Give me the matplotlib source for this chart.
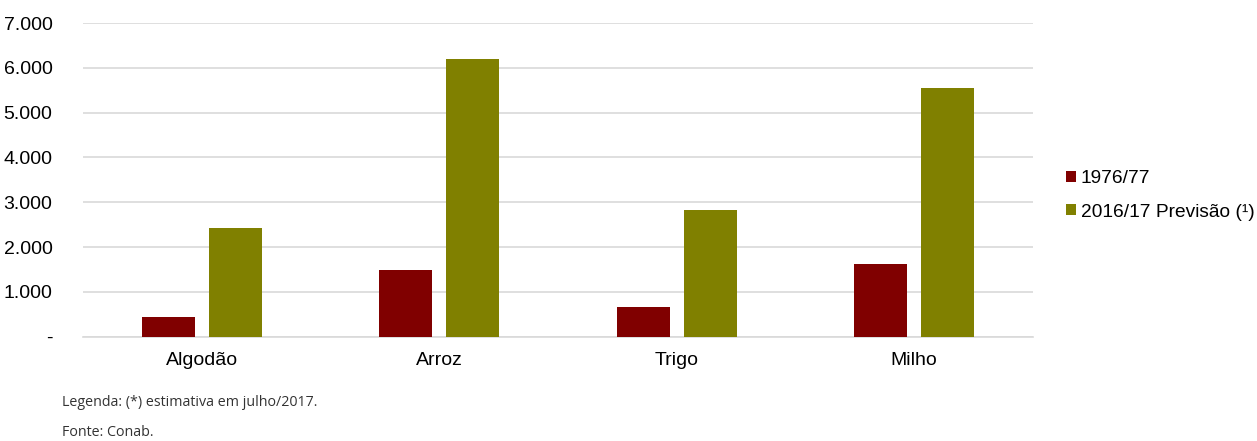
import matplotlib
matplotlib.use("Agg")
import matplotlib.pyplot as plt
import numpy as np
from matplotlib.ticker import FuncFormatter

categories = ["Algodão", "Arroz", "Trigo", "Milho"]
series_names = ["1976/77", "2016/17 Previsão (¹)"]
vals_1976 = [430, 1490, 660, 1630]
vals_2016 = [2430, 6200, 2830, 5560]
colors = ["#800000", "#808000"]

plt.rcParams["font.family"] = ["Liberation Sans", "DejaVu Sans"]

fig = plt.figure(figsize=(12.57, 4.41), dpi=100)
ax = fig.add_axes([83/1257, 1-336.7/441, (1033-83)/1257, (336.7-23)/441])

x = np.arange(len(categories))
w = 0.223
off = 0.141
ax.bar(x - off, vals_1976, w, color=colors[0], label=series_names[0], zorder=3)
ax.bar(x + off, vals_2016, w, color=colors[1], label=series_names[1], zorder=3)

ax.set_xlim(-0.5, len(categories) - 0.5)
ax.set_ylim(0, 7000)
ax.set_yticks(np.arange(0, 7001, 1000))
ax.yaxis.set_major_formatter(FuncFormatter(lambda v, p: "-" if v == 0 else f"{int(v):,}".replace(",", ".")))
ax.grid(axis="y", color="#d9d9d9", linewidth=1.2, zorder=0)
for s in ["top", "right", "left"]:
    ax.spines[s].set_visible(False)
ax.spines["bottom"].set_color("#d9d9d9")
ax.spines["bottom"].set_linewidth(1.2)
ax.set_xticks(x)
ax.set_xticklabels(categories)
ax.tick_params(axis="both", length=0, labelsize=14, colors="black")
ax.tick_params(axis="y", pad=22)
ax.tick_params(axis="x", pad=11)

leg = ax.legend(loc="center left", bbox_to_anchor=(1.019, 0.45), frameon=False, fontsize=13.8,
                handlelength=0.5, handleheight=0.5, handletextpad=0.25, labelspacing=0.85,
                borderaxespad=0.4)

fig.text(62/1257, 1-403/441, "Legenda: (*) estimativa em julho/2017.", fontsize=10.3,
         family=["Open Sans", "DejaVu Sans"], color="#333333", va="center")
fig.text(62/1257, 1-432/441, "Fonte: Conab.", fontsize=10.3,
         family=["Open Sans", "DejaVu Sans"], color="#333333", va="center")

fig.savefig("out.png", dpi=100, facecolor="white")
